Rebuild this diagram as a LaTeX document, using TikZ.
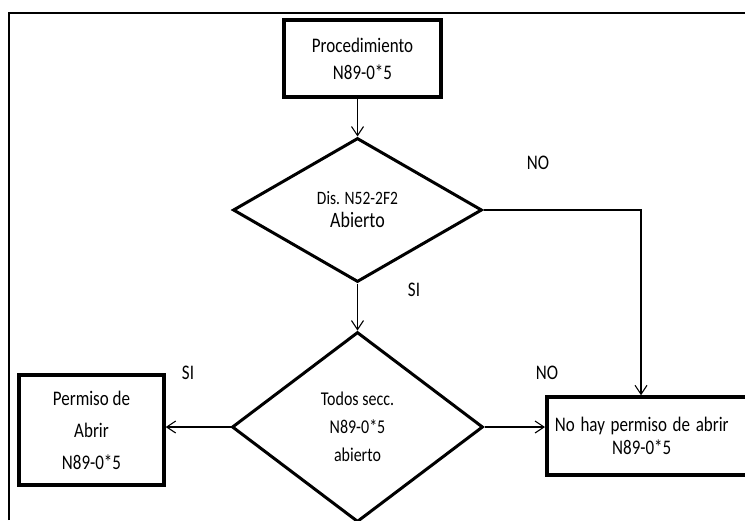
\documentclass[tikz,border=0pt]{standalone}
\usepackage{graphicx}
\usepackage{fontspec}
\setmainfont{Carlito}
\usetikzlibrary{shapes.geometric, arrows.meta, positioning}
\newcommand{\tx}[1]{\scalebox{1}[1.22]{#1}}

\begin{document}
\begin{tikzpicture}[x=1pt, y=-1pt,
  box/.style={draw, line width=3.5pt, align=center, inner sep=0pt, font=\fontsize{17}{27}\selectfont},
  decision/.style={draw, diamond, line width=3pt, align=center, inner sep=0pt},
  arr/.style={-{Straight Barb[length=9pt, width=12pt]}, line width=1.1pt},
  lbl/.style={font=\fontsize{17}{20}\selectfont}]
  \clip (0,0) rectangle (745,520);

  % Frame
  \draw[line width=2.5pt] (9,520) -- (9,13) -- (745,13);

  % Steps and decisions
  \node[box, minimum width=157, minimum height=77] (proc) at (362.5,58.5) {\tx{Procedimiento}\\\tx{N89-0*5}};
  \node[decision, minimum width=249, minimum height=144, font=\fontsize{17}{23}\selectfont] (dis) at (357.5,210) {{\fontsize{15.5}{23}\selectfont\tx{Dis. N52-2F2}}\\{\fontsize{18}{23}\selectfont\tx{Abierto}}};
  \node[decision, minimum width=251, minimum height=190, font=\fontsize{16}{28}\selectfont] (todos) at (357.5,427) {\tx{Todos secc.}\\\tx{N89-0*5}\\\tx{abierto}};
  \node[box, minimum width=145, minimum height=110, font=\fontsize{17}{32}\selectfont] (permiso) at (91.5,430) {\tx{Permiso de}\\\tx{Abrir}\\\tx{N89-0*5}};
  \node[box, anchor=west, minimum height=78, text width=230, align=left, font=\fontsize{17}{23}\selectfont] (nohay) at (545,436) {\makebox[190pt]{\tx{No hay permiso de abrir}}\\\makebox[190pt]{\tx{N89-0*5}}};

  % Connectors
  \coordinate (bend) at (641,210);
  \draw[arr] (dis.north |- proc.south) -- (dis.north);
  \draw[arr] (dis.east) -- (bend) -- (bend |- nohay.north);
  \draw[arr] (dis.south) -- (todos.north);
  \draw[arr] (todos.west) -- (todos.west -| permiso.east);
  \draw[arr] (todos.east) -- (todos.east -| nohay.west);

  % Labels
  \node[lbl] (no1) at (538,163) {\tx{NO}};
  \node[lbl] (si1) at (414,290) {\tx{SI}};
  \node[lbl] (si2) at (188,373) {\tx{SI}};
  \node[lbl] (no2) at (547,373) {\tx{NO}};
\end{tikzpicture}
\end{document}
